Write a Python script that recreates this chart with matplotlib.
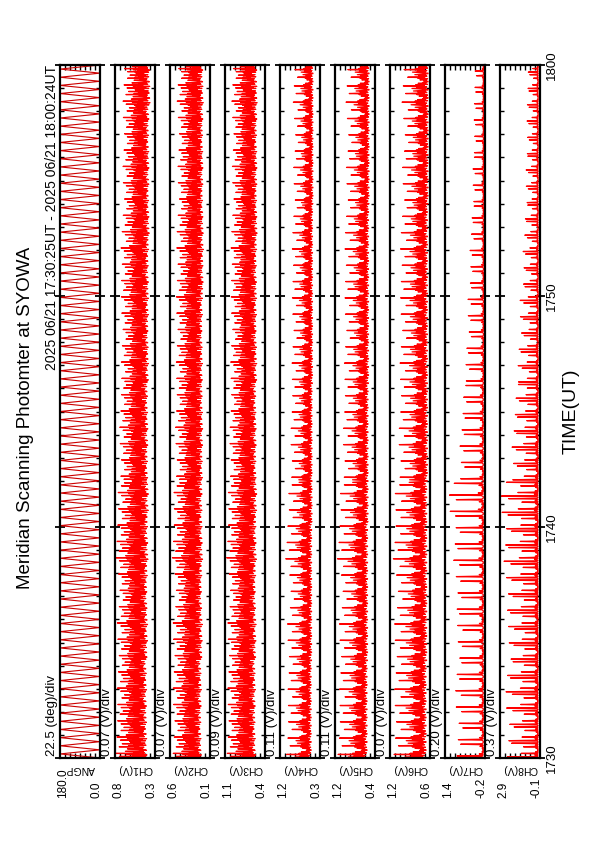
import matplotlib as mpl
import matplotlib.pyplot as plt
import numpy as np

mpl.rcParams["font.family"] = ["Liberation Sans", "DejaVu Sans"]

title = "Meridian Scanning Photomter at SYOWA"
period = "2025 06/21 17:30:25UT - 2025 06/21 18:00:24UT"
time_ticks = [0, 10, 20, 30]  # minutes after 17:30
time_labels = ["1730", "1740", "1750", "1800"]

channels = ["ANGP", "CH1(V)", "CH2(V)", "CH3(V)", "CH4(V)",
            "CH5(V)", "CH6(V)", "CH7(V)", "CH8(V)"]
top_vals = [180.0, 0.8, 0.6, 1.1, 1.2, 1.2, 1.2, 1.4, 2.9]
bottom_vals = [0.0, 0.3, 0.1, 0.4, 0.3, 0.4, 0.6, -0.2, -0.1]
top_labels = ["180.0", "0.8", "0.6", "1.1", "1.2", "1.2", "1.2", "1.4", "2.9"]
bottom_labels = ["0.0", "0.3", "0.1", "0.4", "0.3", "0.4", "0.6", "-0.2", "-0.1"]
scales = ["22.5 (deg)/div", "0.07 (V)/div", "0.07 (V)/div", "0.09 (V)/div",
          "0.11 (V)/div", "0.11 (V)/div", "0.07 (V)/div", "0.20 (V)/div",
          "0.37 (V)/div"]

# scan mirror angle, one sweep up and one back per scan
angp_sweep = [0.0, 180.0]
scan_sec = 21.0

# shape of one scan as seen in the traces (relative deflection)
noisy = [0.0, 0.45, -0.25, 0.85, -0.1, 0.3, -0.3, 0.55, 0.05, 1.0, -0.2, 0.25,
         -0.15, 0.6, 0.1, -0.28]
comb = [0.0, 0.3, 0.65, 0.1, 0.45, 0.05, 0.35, 1.0, 0.15, 0.5, 0.02, 0.25,
        0.4, 0.08, 0.2, 0.0]
spike = [0.0, 0.0, 0.03, 0.06, 1.0, 0.04, 0.0, 0.02, 0.15, 0.03, 0.0, 0.0,
         0.05, 0.0, 0.02, 0.0]
double = [0.0, 0.03, 1.0, 0.04, 0.0, 0.06, 0.1, 0.03, 0.0, 0.55, 0.03, 0.0,
          0.08, 0.0, 0.02, 0.0]
scan_weights = [1.0, 0.86, 0.95, 0.78, 0.92, 0.82, 0.98, 0.8]

# baseline and peak height, every 2 minutes from 1730 to 1800
ch1_base = [0.49, 0.49, 0.48, 0.48, 0.48, 0.47, 0.47, 0.47, 0.46, 0.46, 0.46, 0.45, 0.45, 0.45, 0.44]
ch1_amp = [0.30, 0.28, 0.29, 0.28, 0.31, 0.29, 0.27, 0.27, 0.26, 0.26, 0.27, 0.26, 0.25, 0.25, 0.26]
ch2_base = [0.29, 0.29, 0.28, 0.28, 0.28, 0.28, 0.27, 0.27, 0.27, 0.27, 0.26, 0.26, 0.26, 0.26, 0.26]
ch2_amp = [0.27, 0.27, 0.28, 0.26, 0.29, 0.27, 0.26, 0.26, 0.25, 0.25, 0.26, 0.25, 0.24, 0.24, 0.25]
ch3_base = [0.68, 0.68, 0.67, 0.67, 0.67, 0.66, 0.66, 0.66, 0.65, 0.65, 0.65, 0.64, 0.64, 0.64, 0.64]
ch3_amp = [0.38, 0.37, 0.38, 0.36, 0.40, 0.38, 0.36, 0.35, 0.35, 0.34, 0.35, 0.34, 0.33, 0.33, 0.34]
ch4_base = [0.50, 0.50, 0.49, 0.49, 0.49, 0.48, 0.48, 0.48, 0.47, 0.47, 0.47, 0.47, 0.46, 0.46, 0.46]
ch4_amp = [0.55, 0.52, 0.54, 0.50, 0.58, 0.52, 0.48, 0.47, 0.46, 0.45, 0.46, 0.44, 0.43, 0.42, 0.44]
ch5_base = [0.56, 0.56, 0.55, 0.55, 0.55, 0.54, 0.54, 0.54, 0.53, 0.53, 0.53, 0.53, 0.52, 0.52, 0.52]
ch5_amp = [0.58, 0.55, 0.56, 0.53, 0.60, 0.55, 0.50, 0.49, 0.48, 0.47, 0.48, 0.46, 0.45, 0.44, 0.46]
ch6_base = [0.66, 0.66, 0.65, 0.65, 0.65, 0.65, 0.64, 0.64, 0.64, 0.64, 0.64, 0.64, 0.63, 0.63, 0.63]
ch6_amp = [0.48, 0.47, 0.48, 0.46, 0.50, 0.47, 0.43, 0.42, 0.41, 0.40, 0.41, 0.39, 0.38, 0.37, 0.39]
ch7_base = [-0.13, -0.13, -0.13, -0.13, -0.13, -0.13, -0.13, -0.13, -0.14, -0.14, -0.14, -0.14, -0.14, -0.14, -0.14]
ch7_amp = [1.05, 1.10, 1.02, 1.10, 1.18, 1.35, 0.95, 0.85, 0.70, 0.62, 0.55, 0.48, 0.42, 0.38, 0.36]
ch8_base = [0.05, 0.05, 0.05, 0.05, 0.05, 0.05, 0.04, 0.04, 0.04, 0.04, 0.04, 0.04, 0.04, 0.04, 0.04]
ch8_amp = [2.30, 2.40, 2.20, 2.40, 2.55, 2.75, 2.00, 1.80, 1.50, 1.35, 1.15, 1.00, 0.90, 0.85, 0.80]

signals = [
    (ch1_base, ch1_amp, noisy), (ch2_base, ch2_amp, noisy), (ch3_base, ch3_amp, noisy),
    (ch4_base, ch4_amp, comb), (ch5_base, ch5_amp, comb), (ch6_base, ch6_amp, comb),
    (ch7_base, ch7_amp, spike), (ch8_base, ch8_amp, double),
]


def build_trace(base, amp, profile):
    n_scan = int(30 * 60 / scan_sec)
    vals = []
    for k in range(n_scan):
        seg = k * len(base) // n_scan
        shape = profile if k % 2 == 0 else profile[::-1]
        w = scan_weights[k % len(scan_weights)]
        for p in shape:
            vals.append(base[seg] + amp[seg] * w * p)
    vals.append(base[-1])
    t = np.linspace(0, 30, len(vals))
    return np.array(vals), t


W, H = 595, 842
fig = plt.figure(figsize=(W / 100, H / 100), dpi=100)


def fx(x):
    return x / W


def fy(y):
    return 1 - y / H


top_px, bot_px = 65, 758
for i, name in enumerate(channels):
    left = 60 + 55 * i
    ax = fig.add_axes([fx(left), fy(bot_px), 40 / W, (bot_px - top_px) / H])
    if i == 0:
        n_half = int(30 * 60 / scan_sec) * 2
        t = np.linspace(0, 30, n_half + 1)
        v = np.resize(angp_sweep, n_half + 1)
        ax.plot(v, t, color="#cc0000", lw=0.8)
    else:
        base, amp, prof = signals[i - 1]
        v, t = build_trace(base, amp, prof)
        ax.plot(v, t, color="red", lw=0.9)
    ax.set_xlim(top_vals[i], bottom_vals[i])
    ax.set_ylim(0, 30)
    ax.set_xticks(np.linspace(top_vals[i], bottom_vals[i], 9)[1:-1])
    ax.set_yticks(time_ticks)
    ax.set_yticks(np.arange(0, 31, 1), minor=True)
    ax.tick_params(axis="x", direction="in", length=3.5, width=1, top=True,
                   bottom=True, labelbottom=False)
    ax.tick_params(axis="y", which="major", direction="inout", length=7, width=1.3,
                   left=True, right=True, labelleft=False)
    ax.tick_params(axis="y", which="minor", direction="in", length=3, width=1,
                   left=True, right=True)
    for s in ax.spines.values():
        s.set_linewidth(1.6)
    if i == len(channels) - 1:
        ax.set_yticklabels(time_labels)
        ax.tick_params(axis="y", which="major", labelright=True, labelrotation=90,
                       labelsize=9.5, pad=1)
        for lab in ax.get_yticklabels():
            lab.set_va("center")

    # labels under each panel (value axis)
    fig.text(fx(left + 3.5), fy(798), top_labels[i], rotation=90, ha="center",
             va="bottom", fontsize=8.5)
    fig.text(fx(left + 36.5), fy(798), bottom_labels[i], rotation=90, ha="center",
             va="bottom", fontsize=8.5)
    fig.text(fx(left + 20), fy(769), name, rotation=180, ha="center", va="center",
             fontsize=7.5)
    fig.text(fx(left - 8), fy(756), scales[i], rotation=90, ha="center",
             va="bottom", fontsize=9.5)

fig.text(fx(26), fy(418), title, rotation=90, ha="center", va="center", fontsize=13.5)
fig.text(fx(52), fy(65), period, rotation=90, ha="center", va="top", fontsize=10)
fig.text(fx(571), fy(411), "TIME(UT)", rotation=90, ha="center", va="center",
         fontsize=14)

fig.savefig("out.png", dpi=100)
